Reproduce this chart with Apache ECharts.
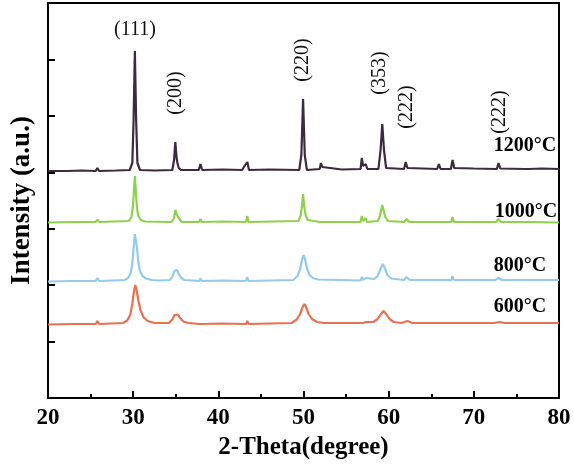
<!DOCTYPE html>
<html>
<head>
    <meta charset="utf-8">
    <script src="https://cdn.jsdelivr.net/npm/echarts@6/dist/echarts.min.js"></script>
    <style>
        html, body{margin:0;padding:0;background:#fff;}
        #chart{width:574px;height:465px;}
    </style>
</head>
<body>
<div id="chart"></div>
<script>
    // 2-theta / intensity points (offset stacked curves)
    var xrd1200 = [[20,227],[21.9,227],[22.0,228.5],[22.2,227],[24,227.5],[25.6,227],[25.8,230],[26.0,227],[28,227.5],
        [29.6,228],[29.9,235],[30.05,278],[30.2,347],[30.35,278],[30.5,235],[30.8,228],[32.5,227.5],
        [34.6,228],[34.8,238],[34.95,256],[35.1,240],[35.2,235],[35.35,230],[35.6,228],
        [37.7,228],[37.9,234],[38.1,228],[40.5,228.5],[42.8,228],[43.0,231],[43.2,229],[43.4,236],[43.6,228],[46,228.5],
        [49.5,228],[49.75,243],[49.95,299],[50.15,243],[50.4,228],[51.9,229],[52.05,235],[52.2,231],[52.4,229],[54.5,228.5],
        [56.7,229],[56.85,240],[57.0,232],[57.3,234],[57.5,229],[58.8,229],[59.05,248],[59.25,274],[59.45,248],[59.7,230],
        [61.8,229],[62.0,236],[62.2,230],[64,229.5],[65.7,229],[65.9,234],[66.1,229],[67.3,229],[67.5,238],[67.7,230],
        [70,229.5],[72.7,229],[72.9,235],[73.1,229.5],[76.0,229],[76.2,230.5],[76.4,229],[78,229.5],[80,229]];

    var xrd1000 = [[20,175.5],[23,176],[25.6,176],[25.8,178.5],[26.0,176],[29.5,177],[29.8,181],[29.95,190],[30.08,206],[30.2,222],
        [30.32,206],[30.45,190],[30.6,182],[30.9,178],[31.4,176.5],[34.5,176],[34.8,180],[34.95,188],[35.1,184],[35.2,185],[35.35,180],
        [35.7,176],[37.75,176],[37.9,179],[38.05,176],[40.5,176.5],[43.25,176],[43.4,182],[43.55,176],[46.5,176.5],
        [49.4,177],[49.65,182],[49.82,192],[49.95,204],[50.08,192],[50.25,183],[50.5,178],[51.9,176],[52.0,178],[52.1,176],
        [56.7,176],[56.85,182],[57.0,177],[57.3,180],[57.45,176],[58.7,177],[58.95,181],[59.12,188],[59.25,193],[59.4,188],[59.6,181],[59.9,177],
        [61.8,176],[62.1,179],[62.4,176],[65.8,176],[65.95,178],[66.1,176],[67.35,176],[67.5,181],[67.65,176],
        [72.6,176],[72.9,179],[73.2,176],[76.5,176],[80,175.5]];

    var xrd800 = [[20,116.5],[23,117],[25.6,117],[25.8,120],[26.0,117],[29.0,118],[29.4,120],[29.7,125],[29.9,134],[30.05,150],
        [30.2,164],[30.3,164],[30.45,150],[30.6,136],[30.8,127],[31.1,122],[31.5,119.5],[32.2,118],[33,117.5],
        [34.3,118],[34.6,121],[34.85,127],[35.0,129],[35.15,128],[35.35,124],[35.6,120.5],[36.0,118],
        [37.75,117],[37.9,119.5],[38.05,117],[40.5,117.5],[43.25,117],[43.4,121],[43.55,117],[46,117.5],
        [48.8,118],[49.3,122],[49.6,129],[49.85,139],[50.0,143],[50.15,140],[50.4,130],[50.7,123],[51.1,120],[51.7,118.5],
        [56.7,117.5],[56.85,121],[57.0,118],[57.3,120],[57.5,118],[58.3,119],[58.7,122],[59.0,128],[59.3,134],[59.55,130],
        [59.85,123],[60.3,119.5],[61.8,118],[62.1,121],[62.5,118],[65,118],[67.35,118],[67.5,122],[67.65,118],
        [72.5,118],[72.9,120],[73.3,118],[76,118],[80,118]];

    var xrd600 = [[20,73.5],[23,74],[25.6,74],[25.8,77],[26.0,74],[28.8,75],[29.3,77.5],[29.65,83],[29.9,94],[30.1,107],
        [30.25,113],[30.4,108],[30.6,98],[30.85,88],[31.2,81],[31.7,77],[32.5,75],[34.2,75],[34.6,78.5],[34.85,83],[35.05,85],
        [35.25,83.5],[35.5,80],[35.9,76.5],[36.5,75],[37.8,74],[37.95,75.5],[38.1,74],[40.5,74.5],[43.25,74],[43.4,77],[43.55,74],
        [46,74.5],[48.6,75],[49.2,78.5],[49.6,84],[49.9,91],[50.1,94],[50.3,91],[50.6,84],[51.0,79],[51.6,76],[52.4,75],
        [57.0,75],[57.3,76],[57.5,75],[58.2,76],[58.7,79],[59.1,84],[59.4,87],[59.7,84],[60.1,79],[60.6,76],[61.5,75],
        [62.2,77],[62.8,75],[65,75],[67.4,75],[67.6,76.5],[67.8,75],[72.4,75],[73.0,76],[73.6,75],[77,75],[80,75]];

    var seriesNames = ['1200℃', '1000℃', '800℃', '600℃'];
    var seriesData = [xrd1200, xrd1000, xrd800, xrd600];
    var seriesColors = ['#3b2b3b', '#8ed14e', '#94cbe8', '#e8714f'];

    var peakLabels = ['(111)', '(200)', '(220)', '(353)', '(222)', '(222)'];
    var tempLabels = ['1200°C', '1000°C', '800°C', '600°C'];

    var serif = '"Liberation Serif", "Times New Roman", serif';

    var myChart = echarts.init(document.getElementById('chart'));

    var series = [];
    for (var i = 0; i < seriesData.length; i++) {
        series.push({
            name: seriesNames[i],
            type: 'line',
            data: seriesData[i],
            symbol: 'none',
            smooth: false,
            lineStyle: {color: seriesColors[i], width: 2.2},
            itemStyle: {color: seriesColors[i]},
            z: 3 + i
        });
    }

    // annotation text, placed in pixels
    var peakPos = [[135, 30, 0], [176, 93, 1], [303, 60, 1], [380, 73, 1], [407, 107, 1], [500, 112, 1]];
    var tempPos = [[525, 146], [526, 212], [520, 266], [520, 307]];
    var graphics = [];
    peakLabels.forEach(function (t, k) {
        graphics.push({
            type: 'text',
            x: peakPos[k][0],
            y: peakPos[k][1],
            rotation: peakPos[k][2] ? Math.PI / 2 : 0,
            style: {text: t, font: '20px ' + serif, fill: '#111', align: 'center', verticalAlign: 'middle'},
            z: 10
        });
    });
    tempLabels.forEach(function (t, k) {
        graphics.push({
            type: 'text',
            x: tempPos[k][0],
            y: tempPos[k][1],
            style: {text: t, font: 'bold 20px ' + serif, fill: '#000', align: 'center', verticalAlign: 'middle'},
            z: 10
        });
    });

    var option = {
        animation: false,
        backgroundColor: '#fff',
        grid: {left: 48, right: 15, top: 3, bottom: 67, containLabel: false},
        xAxis: [{
            type: 'value',
            min: 20,
            max: 80,
            interval: 10,
            name: '2-Theta(degree)',
            nameLocation: 'middle',
            nameGap: 33,
            nameTextStyle: {fontFamily: serif, fontWeight: 'bold', fontSize: 25, color: '#000'},
            axisLine: {show: true, onZero: false, lineStyle: {color: '#000', width: 2}},
            axisTick: {show: true, inside: true, length: 7, lineStyle: {color: '#000', width: 2}},
            minorTick: {show: true, splitNumber: 2, length: 4, lineStyle: {color: '#000', width: 2}},
            axisLabel: {fontFamily: serif, fontWeight: 'bold', fontSize: 23, color: '#000', margin: 9},
            splitLine: {show: false}
        }, {
            type: 'value',
            position: 'top',
            min: 20,
            max: 80,
            axisLine: {show: true, onZero: false, lineStyle: {color: '#000', width: 2}},
            axisTick: {show: false},
            axisLabel: {show: false},
            splitLine: {show: false}
        }],
        yAxis: [{
            type: 'value',
            min: 0,
            max: 395,
            interval: 56.43,
            name: 'Intensity (a.u.)',
            nameLocation: 'middle',
            nameRotate: 90,
            nameGap: 12,
            nameTextStyle: {fontFamily: serif, fontWeight: 'bold', fontSize: 27, color: '#000'},
            axisLine: {show: true, onZero: false, lineStyle: {color: '#000', width: 2}},
            axisTick: {show: true, inside: true, length: 7, lineStyle: {color: '#000', width: 2}},
            axisLabel: {show: false},
            splitLine: {show: false}
        }, {
            type: 'value',
            position: 'right',
            min: 0,
            max: 395,
            axisLine: {show: true, onZero: false, lineStyle: {color: '#000', width: 2}},
            axisTick: {show: false},
            axisLabel: {show: false},
            splitLine: {show: false}
        }],
        series: series,
        graphic: graphics
    };

    myChart.setOption(option);
</script>
</body>
</html>
